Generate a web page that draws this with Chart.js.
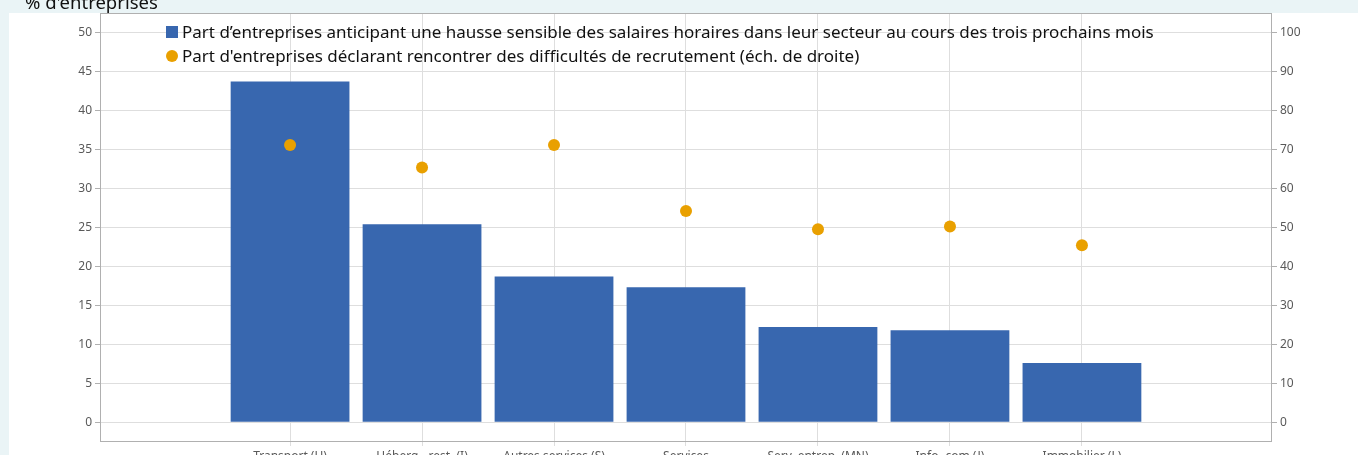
<!DOCTYPE html>
<html>
<head>
<meta charset="utf-8">
<style>
    html, body { margin: 0; padding: 0; width: 1358px; height: 455px; overflow: hidden; background: #eaf4f6; }
    #panel { position: absolute; left: 9px; top: 13px; right: 0; height: 500px; background: #fff; }
    #salairesChart { position: absolute; left: 0; top: 0; }
</style>
</head>
<body>
<div id="panel"></div>
<canvas id="salairesChart" width="1358" height="480"></canvas>

<script src="https://cdn.jsdelivr.net/npm/chart.js"></script>
<script>
    // secteurs (axe horizontal)
    const secteurs = ['Transport (H)', 'Héberg.- rest. (I)', 'Autres services (S)', 'Services',
        'Serv. entrep. (MN)', 'Info.-com (J)', 'Immobilier (L)'];
    // % d'entreprises anticipant une hausse sensible des salaires (échelle de gauche)
    const hausseSalaires = [43.7, 25.4, 18.7, 17.3, 12.2, 11.8, 7.6];
    // % d'entreprises déclarant des difficultés de recrutement (échelle de droite)
    const difficultesRecrutement = [71.1, 65.3, 71.1, 54.2, 49.5, 50.2, 45.4];
    // graduations
    const ticksGauche = [0, 5, 10, 15, 20, 25, 30, 35, 40, 45, 50];
    const ticksDroite = [0, 10, 20, 30, 40, 50, 60, 70, 80, 90, 100];

    const titreAxe = "% d'entreprises";
    const labelHausse = 'Part d’entreprises anticipant une hausse sensible des salaires horaires dans leur secteur au cours des trois prochains mois';
    const labelRecrut = "Part d'entreprises déclarant rencontrer des difficultés de recrutement (éch. de droite)";

    const BLEU = '#3867af';
    const ORANGE = '#e9a000';
    const GRILLE = '#dedede';
    const CADRE = '#b0b0b0';
    const POLICE = '"Noto Sans", "Open Sans", sans-serif';

    // cadre autour de la zone du graphique + légende dans le cadre + titre d'axe
    const decorPlugin = {
        id: 'decor',
        afterDraw(chart) {
            const ctx = chart.ctx;
            const a = chart.chartArea;
            ctx.save();
            ctx.strokeStyle = CADRE;
            ctx.lineWidth = 1;
            ctx.strokeRect(Math.round(a.left) + 0.5, Math.round(a.top) + 0.5,
                Math.round(a.right - a.left) - 1, Math.round(a.bottom - a.top));

            // légende
            ctx.font = '17px ' + POLICE;
            ctx.textBaseline = 'middle';
            ctx.textAlign = 'left';
            chart.data.datasets.forEach((ds, i) => {
                const y = a.top + 19 + i * 24;
                const x = a.left + 66;
                ctx.fillStyle = ds.backgroundColor;
                if (ds.type === 'line') {
                    ctx.beginPath();
                    ctx.arc(x + 6, y, 6, 0, Math.PI * 2);
                    ctx.fill();
                } else {
                    ctx.fillRect(x, y - 6, 12, 12);
                }
                ctx.fillStyle = '#111';
                ctx.fillText(ds.label, x + 16, y + 1);
            });

            // titre d'axe (coupé en haut)
            ctx.font = '18.5px ' + POLICE;
            ctx.textBaseline = 'alphabetic';
            ctx.fillStyle = '#111';
            ctx.fillText(titreAxe, 25, 8.5);
            ctx.restore();
        }
    };

    const ctx = document.getElementById('salairesChart').getContext('2d');
    const salairesChart = new Chart(ctx, {
        type: 'bar',
        data: {
            datasets: [
                {
                    label: labelHausse,
                    data: secteurs.map((s, i) => ({ x: i, y: hausseSalaires[i] })),
                    backgroundColor: BLEU,
                    borderWidth: 0,
                    barPercentage: 0.9,
                    categoryPercentage: 1,
                    yAxisID: 'y',
                    order: 1
                },
                {
                    label: labelRecrut,
                    type: 'line',
                    data: secteurs.map((s, i) => ({ x: i, y: difficultesRecrutement[i] })),
                    showLine: false,
                    backgroundColor: ORANGE,
                    pointBackgroundColor: ORANGE,
                    pointBorderWidth: 0,
                    pointRadius: 6,
                    yAxisID: 'y2',
                    order: 0
                }
            ]
        },
        options: {
            responsive: false,
            animation: false,
            devicePixelRatio: 1,
            layout: { padding: { top: 13, left: 0, right: 0, bottom: 0 } },
            plugins: {
                legend: { display: false },
                tooltip: { enabled: false }
            },
            scales: {
                x: {
                    type: 'linear',
                    min: -1.44,
                    max: 7.44,
                    offset: false,
                    grid: { offset: false, color: GRILLE, tickLength: 5, tickColor: GRILLE },
                    border: { display: false },
                    afterBuildTicks: (axis) => { axis.ticks = secteurs.map((s, i) => ({ value: i })); },
                    afterFit: (axis) => { axis.height = 39; },
                    ticks: {
                        autoSkip: false,
                        maxRotation: 0,
                        padding: 3,
                        color: '#595959',
                        font: { family: POLICE, size: 12 },
                        callback: (v) => secteurs[v]
                    }
                },
                y: {
                    position: 'left',
                    min: -2.4,
                    max: 52.47,
                    grid: { color: GRILLE, tickLength: 5, tickColor: CADRE },
                    border: { display: false },
                    afterBuildTicks: (axis) => { axis.ticks = ticksGauche.map(v => ({ value: v })); },
                    afterFit: (axis) => { axis.width = 100; },
                    ticks: { padding: 3, color: '#595959', font: { family: POLICE, size: 12 } }
                },
                y2: {
                    position: 'right',
                    min: -4.8,
                    max: 104.94,
                    grid: { drawOnChartArea: false, tickLength: 5, tickColor: CADRE },
                    border: { display: false },
                    afterBuildTicks: (axis) => { axis.ticks = ticksDroite.map(v => ({ value: v })); },
                    afterFit: (axis) => { axis.width = 86; },
                    ticks: { padding: 3, color: '#595959', font: { family: POLICE, size: 12 } }
                }
            }
        },
        plugins: [decorPlugin]
    });
</script>
</body>
</html>
